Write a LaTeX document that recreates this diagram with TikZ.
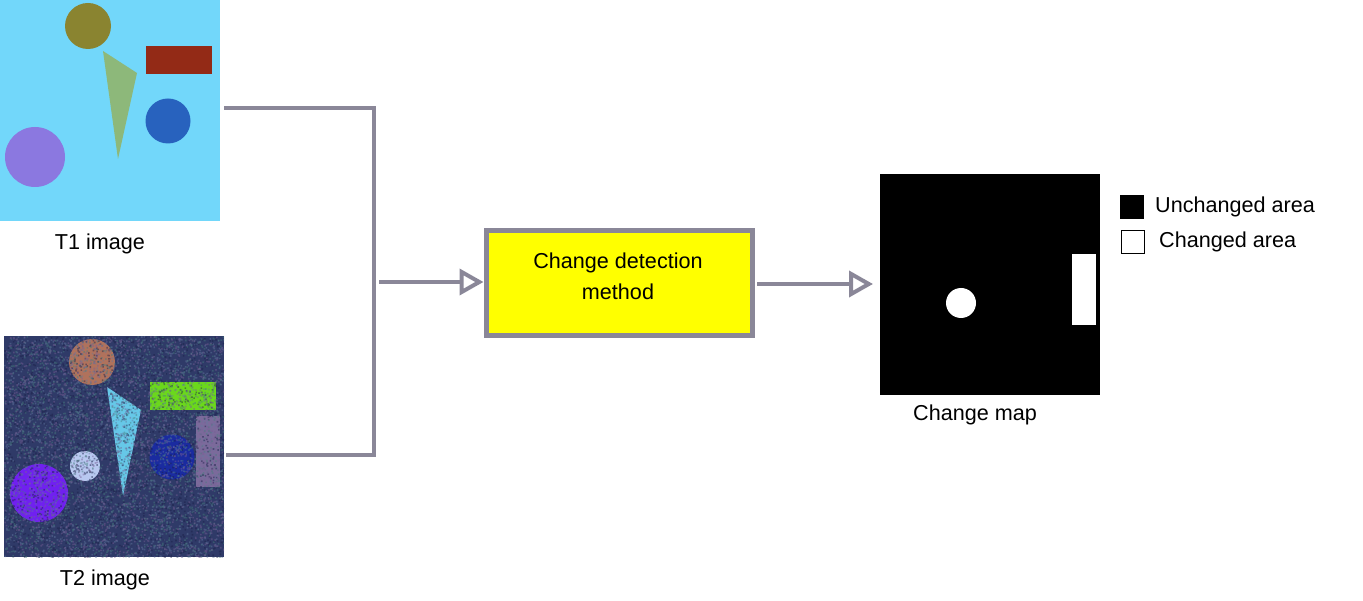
\documentclass[tikz,border=0pt]{standalone}
\usepackage{fontspec}
\setmainfont{Liberation Sans}
\usetikzlibrary{arrows.meta}
\definecolor{linegray}{RGB}{138,135,152}
\definecolor{boxyellow}{RGB}{255,255,0}
\definecolor{tonesky}{RGB}{114,215,250}
\definecolor{toneolive}{RGB}{138,132,48}
\definecolor{tonered}{RGB}{147,42,22}
\definecolor{tonesage}{RGB}{141,184,122}
\definecolor{toneblue}{RGB}{40,98,190}
\definecolor{tonelav}{RGB}{139,120,224}
\definecolor{tonenavy}{RGB}{47,58,104}
\definecolor{tonebrown}{RGB}{176,114,92}
\definecolor{tonelime}{RGB}{107,216,28}
\definecolor{tonecyan}{RGB}{102,200,232}
\definecolor{tonemauve}{RGB}{123,106,155}
\definecolor{tonedeep}{RGB}{26,43,160}
\definecolor{tonepale}{RGB}{184,200,240}
\definecolor{toneviolet}{RGB}{112,32,240}
\definecolor{nzA}{RGB}{100,122,160}
\definecolor{nzB}{RGB}{25,30,70}
\definecolor{nzC}{RGB}{70,125,125}
\definecolor{nzD}{RGB}{120,95,150}
\tikzset{
  lbl/.style={font=\fontsize{21.6}{25}\selectfont, inner sep=0pt},
  conn/.style={draw=linegray, line width=4pt},
  flow/.style={conn, -{Triangle[open, length=24pt, width=26pt, line width=4pt]}},
  method/.style={draw=linegray, line width=5pt, fill=boxyellow, minimum width=266pt, minimum height=105pt, inner sep=0pt},
  pic/.style={inner sep=0pt, outer sep=0pt},
  key/.style={minimum size=23pt, inner sep=0pt, draw=black, line width=1pt},
}
\begin{document}
\begin{tikzpicture}[x=1pt,y=-1pt]
\useasboundingbox (0,0) rectangle (1363,601);
% T1 image
\node[pic, fill=tonesky, minimum width=220pt, minimum height=221pt] (t1) at (110,110.5) {};
\fill[toneolive] (88,26) circle (23);
\fill[tonered] (146,46) rectangle (212,74);
\fill[tonesage] (103,51) -- (137,73) -- (118,159) -- cycle;
\fill[toneblue] (168,121) circle (22.5);
\fill[tonelav] (35,157) circle (30);
\node[lbl] (t1l) at (100,244) {T1 image};
% T2 image
\node[pic, fill=tonenavy, minimum width=220pt, minimum height=221pt] (t2) at (114,446.5) {};
\fill[tonebrown] (92,362) circle (23);
\fill[tonelime] (150,382) rectangle (216,410);
\fill[tonecyan] (107,387) -- (141,410) -- (123,496) -- cycle;
\fill[tonemauve] (196,416) rectangle (220,487);
\fill[tonedeep] (172,457) circle (22.5);
\fill[tonepale] (85,466) circle (15);
\fill[toneviolet] (39,493) circle (29);
\pgfmathsetseed{7}
\begin{scope}
\clip (4,336) rectangle (224,557);
\foreach \nc in {nzA,nzB,nzC,nzD} {
  \fill[\nc, opacity=0.45] \foreach \i in {1,...,2000} { ({4+220*rnd},{336+221*rnd}) rectangle ++(1.6,1.6) };
}
\end{scope}
\node[lbl] (t2l) at (105,580) {T2 image};
% junction
\coordinate (t1o) at (224,108);
\coordinate (t2o) at (226,455);
\coordinate (ja) at (374,108);
\coordinate (jb) at (374,455);
\coordinate (jm) at (379,282);
\draw[conn] (t1o) -- (ja) -- (jb) -- (t2o);
% method box
\node[method] (cd) at (619,283.5) {};
\node[lbl, align=center] (cdt) at (618,276.5) {Change detection\\[6pt]method};
\draw[flow] (jm) -- (cd.west |- jm);
% change map
\node[pic, fill=black, minimum width=220pt, minimum height=221pt] (cm) at (990,284.5) {};
\fill[white] (961,303) circle (15);
\fill[white] (1072,254) rectangle (1096,325);
\coordinate (cdo) at (757,284);
\draw[flow, shorten >=7pt] (cdo) -- (cm.west |- cdo);
\node[lbl] (cml) at (975,415) {Change map};
% legend
\node[key, fill=black] (k1) at (1132,207) {};
\node[key, fill=white] (k2) at (1132.5,242.5) {};
\node[lbl, anchor=west] (k1t) at (1155,207) {Unchanged area};
\node[lbl, anchor=west] (k2t) at (1159,242) {Changed area};
\end{tikzpicture}
\end{document}
